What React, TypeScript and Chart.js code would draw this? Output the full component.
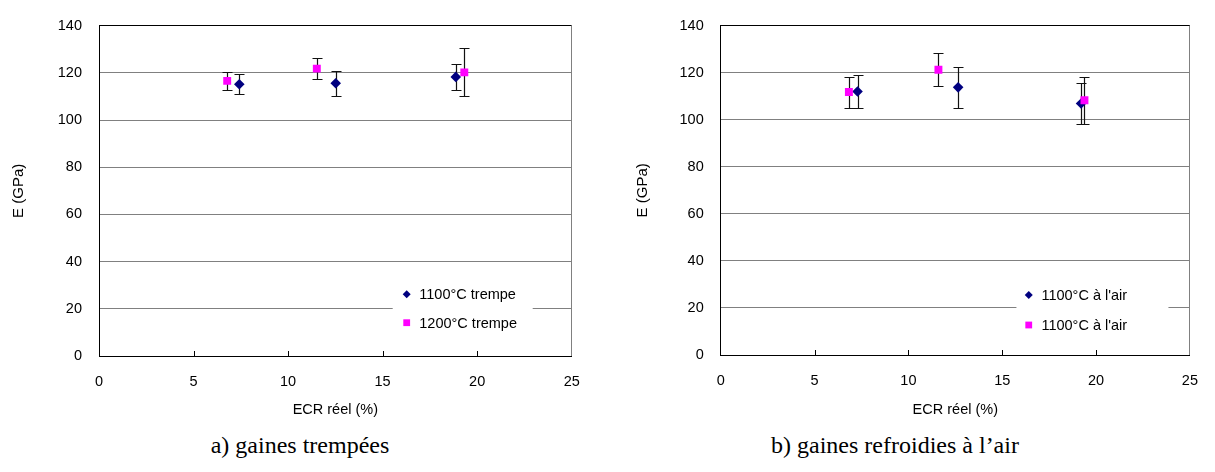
import React, { useEffect, useRef } from 'react';
import { Chart, registerables } from 'chart.js';

Chart.register(...registerables);

// ---------- data ----------
const X_TICKS = [0, 5, 10, 15, 20, 25];
const Y_TICKS = [0, 20, 40, 60, 80, 100, 120, 140];
const Y_TITLE = 'E (GPa)';
const X_TITLE = 'ECR réel (%)';

// a) gaines trempées
const A_LABELS = ['1100°C trempe', '1200°C trempe'];
const A_1100_X = [7.42, 12.52, 18.87];
const A_1100_Y = [115.2, 115.6, 118.3];
const A_1100_ERR = [4.2, 5.4, 5.6];
const A_1200_X = [6.78, 11.52, 19.32];
const A_1200_Y = [116.6, 121.8, 120.2];
const A_1200_ERR = [3.8, 4.5, 10.2];

// b) gaines refroidies à l'air
const B_LABELS = ["1100°C à l'air", "1100°C à l'air"];
const B_S1_X = [7.29, 12.65, 19.2];
const B_S1_Y = [112.0, 113.8, 106.9];
const B_S1_ERR = [6.9, 8.8, 8.8];
const B_S2_X = [6.83, 11.6, 19.38];
const B_S2_Y = [111.8, 121.3, 108.3];
const B_S2_ERR = [6.6, 7.1, 9.9];

const CAPTION_A = 'a) gaines trempées';
const CAPTION_B = 'b) gaines refroidies à l’air';

// ---------- styles ----------
const FONT = { family: '"Liberation Sans", Arial, sans-serif', size: 14.5 };
const NAVY = '#000080';
const MAGENTA = '#FF00FF';

const toPoints = (xs: number[], ys: number[]) => xs.map((x, i) => ({ x, y: ys[i] }));

const errorBarPlugin = {
  id: 'errorBars',
  beforeDatasetsDraw(chart: any) {
    const ctx = chart.ctx;
    const ys = chart.scales.y;
    chart.data.datasets.forEach((ds: any, i: number) => {
      const meta = chart.getDatasetMeta(i);
      meta.data.forEach((pt: any, j: number) => {
        const d = ds.data[j];
        const e = ds.errors[j];
        const x = Math.round(pt.x) + 0.5;
        const yT = Math.round(ys.getPixelForValue(d.y + e)) + 0.5;
        const yB = Math.round(ys.getPixelForValue(d.y - e)) + 0.5;
        ctx.save();
        ctx.strokeStyle = '#111';
        ctx.lineWidth = 1.2;
        ctx.beginPath();
        ctx.moveTo(x, yT);
        ctx.lineTo(x, yB);
        ctx.moveTo(x - 5, yT);
        ctx.lineTo(x + 5, yT);
        ctx.moveTo(x - 5, yB);
        ctx.lineTo(x + 5, yB);
        ctx.stroke();
        ctx.restore();
      });
    });
  },
};

const framePlugin = {
  id: 'frame',
  afterDraw(chart: any, _args: any, opts: any) {
    const { ctx, chartArea: a } = chart;
    const xs = chart.scales.x;
    ctx.save();
    // right border of plot area
    ctx.strokeStyle = '#808080';
    ctx.lineWidth = 1;
    const rx = Math.round(a.right) - 0.5;
    ctx.beginPath();
    ctx.moveTo(rx, a.top);
    ctx.lineTo(rx, a.bottom);
    ctx.stroke();
    // inner tick marks on x axis
    ctx.strokeStyle = '#000';
    ctx.beginPath();
    X_TICKS.forEach((v) => {
      if (v === xs.min || v === xs.max) return;
      const px = Math.round(xs.getPixelForValue(v)) + 0.5;
      ctx.moveTo(px, a.bottom);
      ctx.lineTo(px, a.bottom - 5);
    });
    ctx.stroke();
    // legend
    const L = opts;
    const bx = a.right - L.fromRight;
    const by = a.bottom - L.fromBottom;
    ctx.fillStyle = '#fff';
    ctx.fillRect(bx, by, L.width, L.height);
    ctx.font = `${FONT.size}px ${FONT.family}`;
    ctx.textBaseline = 'middle';
    ctx.textAlign = 'left';
    chart.data.datasets.slice().sort((p: any, q: any) => p.legendIndex - q.legendIndex).forEach((ds: any, k: number) => {
      const cy = a.bottom - L.rows[k];
      const mx = bx + L.markerX;
      ctx.fillStyle = ds.backgroundColor;
      ctx.beginPath();
      if (ds.pointStyle === 'rectRot') {
        ctx.moveTo(mx, cy - 4);
        ctx.lineTo(mx + 4, cy);
        ctx.lineTo(mx, cy + 4);
        ctx.lineTo(mx - 4, cy);
        ctx.closePath();
      } else {
        ctx.rect(mx - 3.4, cy - 3.4, 6.8, 6.8);
      }
      ctx.fill();
      ctx.fillStyle = '#000';
      ctx.fillText(ds.label, bx + L.textX, cy + 1);
    });
    ctx.restore();
  },
};

type PanelCfg = {
  s1: { label: string; x: number[]; y: number[]; err: number[] };
  s2: { label: string; x: number[]; y: number[]; err: number[] };
  width: number;
  height: number;
  yAxisWidth: number;
  xAxisHeight: number;
  padTop: number;
  padRight: number;
  yTitlePad: number;
  legend: any;
};

function Panel({ cfg }: { cfg: PanelCfg }) {
  const ref = useRef<HTMLCanvasElement | null>(null);
  useEffect(() => {
    if (!ref.current) return;
    const chart = new Chart(ref.current, {
      type: 'scatter',
      data: {
        datasets: [
          {
            label: cfg.s1.label,
            data: toPoints(cfg.s1.x, cfg.s1.y),
            errors: cfg.s1.err,
            legendIndex: 0,
            order: 1,
            pointStyle: 'rectRot',
            radius: 5.3,
            hoverRadius: 5.3,
            backgroundColor: NAVY,
            borderColor: NAVY,
            borderWidth: 0,
          } as any,
          {
            label: cfg.s2.label,
            data: toPoints(cfg.s2.x, cfg.s2.y),
            errors: cfg.s2.err,
            legendIndex: 1,
            order: 0,
            pointStyle: 'rect',
            radius: 5.6,
            hoverRadius: 5.6,
            backgroundColor: MAGENTA,
            borderColor: MAGENTA,
            borderWidth: 0,
          } as any,
        ],
      },
      options: {
        animation: false,
        responsive: false,
        events: [],
        layout: { padding: { top: cfg.padTop, right: cfg.padRight, left: 0, bottom: 0 } },
        plugins: {
          legend: { display: false },
          tooltip: { enabled: false },
          frame: cfg.legend,
        } as any,
        scales: {
          x: {
            type: 'linear',
            min: 0,
            max: 25,
            afterBuildTicks: (s: any) => {
              s.ticks = X_TICKS.map((v) => ({ value: v }));
            },
            afterFit: (s: any) => {
              s.height = cfg.xAxisHeight;
            },
            ticks: { color: '#000', font: FONT, padding: 17, maxRotation: 0 },
            grid: { display: false, drawTicks: false },
            border: { display: true, color: '#000', width: 1 },
            title: { display: true, text: X_TITLE, color: '#000', font: FONT, padding: { top: 0, bottom: 6 } },
          },
          y: {
            type: 'linear',
            min: 0,
            max: 140,
            afterBuildTicks: (s: any) => {
              s.ticks = Y_TICKS.map((v) => ({ value: v }));
            },
            afterFit: (s: any) => {
              s.width = cfg.yAxisWidth;
            },
            ticks: { color: '#000', font: FONT, padding: 17 },
            grid: {
              drawTicks: false,
              color: (c: any) => (c.tick && c.tick.value === 140 ? '#000' : '#808080'),
              lineWidth: 1,
            },
            border: { display: true, color: '#000', width: 1 },
            title: { display: true, text: Y_TITLE, color: '#000', font: { ...FONT, size: 15 }, padding: { top: cfg.yTitlePad, bottom: 0 } },
          },
        },
      } as any,
      plugins: [errorBarPlugin, framePlugin],
    });
    return () => chart.destroy();
  }, [cfg]);
  return <canvas ref={ref} width={cfg.width} height={cfg.height} style={{ display: 'block' }} />;
}

const PANEL_A: PanelCfg = {
  s1: { label: A_LABELS[0], x: A_1100_X, y: A_1100_Y, err: A_1100_ERR },
  s2: { label: A_LABELS[1], x: A_1200_X, y: A_1200_Y, err: A_1200_ERR },
  width: 600,
  height: 425,
  yAxisWidth: 99,
  xAxisHeight: 69,
  padTop: 20,
  padRight: 28.3,
  yTitlePad: 10,
  legend: { fromRight: 179, fromBottom: 75, width: 140, height: 58, markerX: 14, textX: 26.6, rows: [61.7, 33.3] },
};

const PANEL_B: PanelCfg = {
  s1: { label: B_LABELS[0], x: B_S1_X, y: B_S1_Y, err: B_S1_ERR },
  s2: { label: B_LABELS[1], x: B_S2_X, y: B_S2_Y, err: B_S2_ERR },
  width: 605,
  height: 425,
  yAxisWidth: 110.7,
  xAxisHeight: 70,
  padTop: 18,
  padRight: 20.5,
  yTitlePad: 23.5,
  legend: { fromRight: 173.5, fromBottom: 74, width: 152, height: 58, markerX: 12.3, textX: 25, rows: [60, 30] },
};

const captionStyle: React.CSSProperties = {
  position: 'absolute',
  top: 431,
  width: 400,
  textAlign: 'center',
  fontFamily: '"Liberation Serif", "Times New Roman", serif',
  fontSize: 24,
  lineHeight: '28px',
  color: '#000',
  whiteSpace: 'nowrap',
};

export default function App() {
  return (
    <div style={{ position: 'fixed', left: 0, top: 0, width: 1215, height: 472, background: '#fff', overflow: 'hidden' }}>
      <div style={{ position: 'absolute', left: 0, top: 0 }}>
        <Panel cfg={PANEL_A} />
      </div>
      <div style={{ position: 'absolute', left: 610, top: 0 }}>
        <Panel cfg={PANEL_B} />
      </div>
      <div style={{ ...captionStyle, left: 100 }}>{CAPTION_A}</div>
      <div style={{ ...captionStyle, left: 695 }}>{CAPTION_B}</div>
    </div>
  );
}
